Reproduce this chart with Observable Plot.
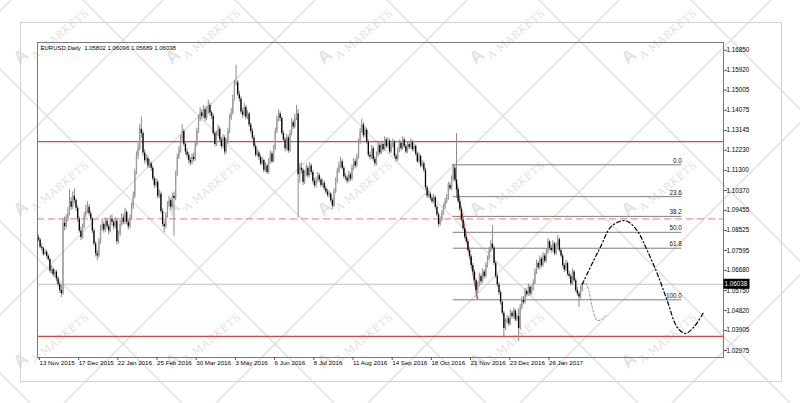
<!DOCTYPE html>
<html><head><meta charset="utf-8">
<script src="https://cdn.jsdelivr.net/npm/d3@7"></script>
<script src="https://cdn.jsdelivr.net/npm/@observablehq/plot@0.6"></script>
<style>
html,body{margin:0;padding:0;background:#fff;}
#wrap{position:relative;width:800px;height:403px;overflow:hidden;background:#fff;}
#bg{position:absolute;left:0;top:0;}
#border{position:absolute;left:20px;top:22px;width:760px;height:358px;border:1px solid #d2d2d2;}
#chart{position:absolute;left:0;top:0;}
</style></head>
<body><div id="wrap"><svg id="bg" width="800" height="403"></svg><div id="border"></div><div id="chart"></div></div>
<script>
// ---- data (prices in pips above 1.0000) ----
const headerText = "EURUSD,Daily  1.05802 1.06096 1.05689 1.06038";
const firstOpenPips = 820;
const closePips = [
808,775,768,741,752,733,718,665,672,648,
660,628,603,575,560,885,870,905,930,985,
960,1010,990,955,905,850,820,870,920,945,
960,930,905,850,790,745,735,800,860,880,
855,895,870,850,905,890,870,895,800,835,
880,910,890,935,890,870,910,960,1010,1120,
1195,1230,1320,1300,1210,1175,1185,1150,1160,1140,
1090,1060,1075,1010,1020,940,880,870,920,970,
990,960,1010,1000,1110,1190,1220,1275,1310,1250,
1215,1200,1175,1165,1190,1180,1250,1310,1365,1395,
1380,1410,1370,1400,1430,1395,1380,1300,1250,1295,
1320,1270,1240,1280,1215,1260,1310,1370,1395,1460,
1530,1535,1480,1460,1400,1385,1420,1375,1390,1340,
1310,1280,1240,1200,1210,1190,1160,1175,1130,1150,
1120,1170,1205,1170,1230,1310,1365,1390,1370,1300,
1270,1230,1280,1220,1300,1350,1330,1370,1390,1110,
1140,1130,1075,1110,1140,1105,1150,1120,1080,1060,
1080,1105,1085,1060,1070,1045,1030,1015,1020,990,
965,1030,1080,1125,1150,1170,1140,1100,1095,1080,
1110,1090,1140,1170,1150,1190,1260,1310,1340,1290,
1315,1260,1200,1190,1230,1180,1160,1200,1245,1210,
1250,1225,1270,1240,1265,1215,1240,1260,1195,1180,
1220,1255,1230,1270,1240,1215,1250,1235,1260,1225,
1240,1205,1170,1195,1150,1160,1130,1050,1010,1020,
1000,985,1005,960,925,880,900,930,960,985,
1000,1060,1045,1090,1140,1085,1040,985,950,900,
860,820,800,760,730,690,660,620,575,600,
640,615,660,640,690,720,760,790,770,700,
640,600,565,520,470,400,430,445,420,470,
455,480,440,455,400,495,530,520,570,555,
590,560,580,610,660,700,680,720,690,735,
710,750,800,770,760,790,745,780,810,760,
735,690,670,700,650,640,605,660,620,575,
560,545,580.2,603.8];
const highPips = [
832,815,790,776,765,760,741,725,690,680,
671,668,640,612,598,905,915,925,958,1040,
1005,1030,1045,1000,965,915,868,882,935,968,
985,972,942,912,862,800,760,815,875,905,
892,910,908,880,920,925,900,912,905,850,
898,930,925,955,945,900,925,980,1030,1135,
1215,1255,1340,1376,1312,1225,1205,1195,1180,1170,
1150,1100,1092,1085,1040,1030,952,895,935,985,
1010,1000,1025,1030,1125,1205,1240,1290,1340,1320,
1262,1230,1212,1190,1205,1210,1265,1325,1385,1420,
1410,1430,1420,1425,1455,1440,1405,1390,1310,1310,
1340,1330,1282,1295,1290,1275,1325,1388,1415,1478,
1545,1616,1545,1495,1470,1415,1440,1430,1405,1398,
1350,1322,1290,1252,1228,1220,1200,1190,1182,1165,
1160,1185,1220,1215,1245,1325,1380,1410,1400,1378,
1312,1282,1295,1290,1315,1368,1362,1388,1430,1410,
1160,1165,1140,1128,1160,1150,1165,1160,1130,1092,
1098,1120,1115,1095,1088,1080,1058,1042,1035,1028,
1000,1045,1095,1140,1168,1190,1180,1150,1115,1105,
1125,1120,1155,1185,1180,1205,1275,1325,1366,1350,
1330,1325,1270,1215,1245,1240,1192,1215,1260,1255,
1265,1262,1285,1280,1280,1275,1255,1275,1268,1205,
1235,1270,1265,1285,1280,1250,1262,1260,1275,1268,
1255,1248,1215,1210,1202,1175,1170,1140,1060,1035,
1030,1012,1020,1012,970,935,915,945,975,1000,
1018,1075,1072,1105,1156,1150,1300,1050,995,960,
910,870,832,810,772,740,700,670,630,615,
655,650,675,670,705,735,775,805,875,780,
710,650,610,575,530,480,445,460,455,485,
480,495,488,470,490,510,545,548,585,580,
605,598,595,625,675,715,710,735,728,750,
745,765,815,808,785,805,798,795,829,818,
770,745,700,715,708,665,650,675,668,630,
588,570,595,609.6];
const lowPips = [
798,768,755,732,736,722,710,655,652,638,
635,615,590,562,543,552,850,860,892,920,
945,950,975,940,890,840,805,812,860,910,
930,918,895,838,780,730,712,725,790,848,
840,845,858,832,842,875,855,860,785,790,
825,870,878,880,878,855,860,900,950,1000,
1110,1180,1220,1280,1195,1160,1165,1138,1140,1125,
1080,1045,1050,998,1000,930,868,840,860,910,
960,945,952,825,990,1100,1180,1210,1265,1240,
1200,1185,1160,1150,1155,1168,1172,1240,1300,1355,
1365,1370,1355,1360,1390,1380,1365,1290,1238,1240,
1285,1258,1228,1230,1200,1205,1250,1300,1360,1385,
1450,1520,1470,1445,1390,1370,1378,1362,1365,1328,
1298,1270,1228,1190,1192,1175,1150,1152,1118,1122,
1110,1112,1160,1160,1165,1222,1300,1355,1355,1290,
1258,1215,1222,1208,1212,1290,1318,1322,1360,910,
1070,1115,1060,1065,1100,1092,1098,1108,1068,1048,
1050,1072,1072,1050,1052,1035,1020,1005,1002,978,
950,958,1022,1070,1115,1140,1130,1090,1082,1068,
1072,1078,1082,1130,1140,1142,1182,1250,1300,1280,
1280,1248,1190,1178,1182,1170,1148,1152,1192,1200,
1202,1215,1218,1230,1232,1205,1208,1232,1185,1168,
1172,1212,1220,1222,1230,1205,1208,1225,1228,1215,
1215,1195,1160,1162,1140,1142,1118,1040,1000,1002,
990,975,978,950,915,865,872,892,922,950,
975,992,1035,1038,1080,1075,1000,975,940,890,
850,810,790,750,720,680,648,608,540,560,
592,600,608,628,632,680,712,750,760,690,
630,590,552,508,458,355,390,420,408,412,
442,448,430,432,340,392,485,508,512,545,
548,550,552,572,602,650,668,672,680,682,
700,702,742,760,748,752,735,738,772,750,
725,680,658,662,640,628,595,598,610,565,
548,497,535,568.9];

const yTicks = [1.16850,1.15920,1.15005,1.14075,1.13145,1.12230,1.11300,1.10370,1.09455,1.08525,1.07595,1.06680,1.05750,1.04820,1.03905,1.02975];
const xTickBars = [0,24,48,72,96,120,144,168,192,216,240,264,288,312];
const xTickLabels = ["13 Nov 2015","17 Dec 2015","22 Jan 2016","25 Feb 2016","30 Mar 2016","3 May 2016","6 Jun 2016","8 Jul 2016","11 Aug 2016","14 Sep 2016","18 Oct 2016","21 Nov 2016","23 Dec 2016","26 Jan 2017"];

const bidPrice = 1.06038;
const redSolidLevels = [1.1263, 1.0363];
const redDashedLevels = [1.0906];

const fibHigh = 1.11557, fibLow = 1.05321;
const fibStartBar = 254, fibEndBar = 394;
const fibLevels = [0, 23.6, 38.2, 50, 61.8, 100];
const fibLabels = ["0.0","23.6","38.2","50.0","61.8","100.0"];
const fibBaseBars = [254, 269];
const fibBasePrices = [1.11557, 1.05321];

const projMainBars = [333, 340, 344.1, 350.3, 356.4, 360.5, 366.6, 372.8, 378.9, 385, 391.1, 396.2, 401.3, 407.4];
const projMainPrices = [1.0604, 1.0714, 1.0775, 1.0867, 1.0895, 1.0895, 1.0852, 1.0760, 1.0654, 1.0529, 1.0406, 1.0377, 1.0406, 1.0475];
const projAltBars = [333, 335, 337, 339.1, 342.1, 345.2, 347.2];
const projAltPrices = [1.0604, 1.0610, 1.0575, 1.0498, 1.0437, 1.0444, 1.0460];

const watermarkText = "A·MARKETS";

// ---- build tables ----
const px = p => 1 + p / 10000;
const bars = closePips.map((c, i) => ({
  i,
  open: px(i ? closePips[i - 1] : firstOpenPips),
  close: px(c),
  high: px(highPips[i]),
  low: px(lowPips[i])
}));
const fibRows = fibLevels.map((l, k) => ({price: fibHigh - (fibHigh - fibLow) * l / 100, label: fibLabels[k]}));
const fibBase = fibBaseBars.map((b, k) => ({x: b, y: fibBasePrices[k]}));
const projMain = projMainBars.map((b, k) => ({x: b, y: projMainPrices[k]}));
const projAlt = projAltBars.map((b, k) => ({x: b, y: projAltPrices[k]}));

const W = 800, H = 403, mL = 37, mR = 77, mT = 42, mB = 46;
const font = "'Liberation Sans', Arial, sans-serif";

// ---- background watermark (decoration) ----
const bg = d3.select("#bg");
const P = 152;
for (let k = -6; k < 12; k++) {
  const a = -69 + P * k;           // x - y = a
  bg.append("line").attr("x1", a).attr("y1", 0).attr("x2", a + H).attr("y2", H)
    .attr("stroke", "#dedede").attr("stroke-width", 1.3);
  const b = 467 + P * (k - 3);     // x + y = b
  bg.append("line").attr("x1", b).attr("y1", 0).attr("x2", b - H).attr("y2", H)
    .attr("stroke", "#dedede").attr("stroke-width", 1.3);
}
for (let i = 0; i < 5; i++) {
  for (let j = 0; j < 3; j++) {
    const cx = 50 + P * i, cy = 42 + P * j;
    const g = bg.append("g").attr("transform", `translate(${cx},${cy}) rotate(-40)`);
    g.append("text").attr("x", -38).attr("y", -2).attr("font-family", font).attr("font-size", 18)
      .attr("font-weight", "bold").attr("fill", "#e4e4e4").text("A");
    g.append("text").attr("x", -23).attr("y", 4).attr("font-family", "'DejaVu Serif', serif").attr("font-size", 10.5)
      .attr("fill", "#dfdfdf").attr("letter-spacing", 0.5).text(watermarkText);
  }
}

const chart = Plot.plot({
  width: W, height: H,
  marginLeft: mL, marginRight: mR, marginTop: mT, marginBottom: mB,
  x: {domain: [-0.6, 419.5]},
  y: {domain: [1.02656, 1.17206]},
  style: {background: "transparent", fontFamily: font, fontSize: "6.5px", color: "#000", overflow: "visible"},
  marks: [
    Plot.ruleY([bidPrice], {stroke: "#c4c4c4"}),
    Plot.ruleY(redSolidLevels, {stroke: "#e8413c", strokeWidth: 1.3}),
    Plot.ruleY(redDashedLevels, {stroke: "#f39090", strokeDasharray: "7,4", strokeWidth: 1.2}),
    Plot.ruleY(fibRows, {y: "price", x1: () => fibStartBar, x2: () => fibEndBar, stroke: "#7d7d7d"}),
    Plot.text(fibRows, {x: () => fibEndBar, y: "price", text: "label", textAnchor: "end", dy: -4, fontSize: 6.3, fill: "#111"}),
    Plot.line(fibBase, {x: "x", y: "y", stroke: "#e03c3c", strokeDasharray: "1,1.5"}),
    Plot.ruleX(bars, {x: "i", y1: "low", y2: "high", stroke: "#8c8c8c", strokeWidth: 1}),
    Plot.ruleX(bars.filter(d => d.close >= d.open), {x: "i", y1: "open", y2: "close", stroke: "#9c9c9c", strokeWidth: 1.3}),
    Plot.ruleX(bars.filter(d => d.close < d.open), {x: "i", y1: "open", y2: "close", stroke: "#000", strokeWidth: 1.3}),
    Plot.line(projAlt, {x: "x", y: "y", curve: "catmull-rom", stroke: "#8a8a8a", strokeDasharray: "2,2", strokeWidth: 1}),
    Plot.line(projMain, {x: "x", y: "y", curve: "catmull-rom", stroke: "#000", strokeDasharray: "4,2.5,1.2,2.5", strokeWidth: 1.2}),
    Plot.frame({stroke: "#7a7a7a"}),
    Plot.axisY(yTicks, {anchor: "right", tickSize: 3, tickPadding: 0, tickFormat: d => d.toFixed(5), fontSize: 6.3, stroke: "#555"}),
    Plot.axisX(xTickBars, {anchor: "bottom", tickSize: 3, tickPadding: 0, tickFormat: d => xTickLabels[xTickBars.indexOf(d)], textAnchor: "start", dx: 1, fontSize: 6.2, stroke: "#555"}),
    Plot.text([headerText], {frameAnchor: "top-left", dx: 3, dy: 3, lineAnchor: "top", textAnchor: "start", fontSize: 6, fill: "#000"})
  ]
});
document.getElementById("chart").appendChild(chart);

// current price tag on the axis
const ys = chart.scale("y");
const yy = ys.apply(bidPrice);
const tag = d3.select(chart).append("g");
tag.append("rect").attr("x", W - mR + 0.5).attr("y", yy - 5).attr("width", 26).attr("height", 10).attr("fill", "#000");
tag.append("text").attr("x", W - mR + 1.5).attr("y", yy).attr("dy", "0.35em").attr("text-anchor", "start")
  .attr("fill", "#fff").attr("font-size", 6.3).attr("font-family", font).text(bidPrice.toFixed(5));
</script>
</body></html>
